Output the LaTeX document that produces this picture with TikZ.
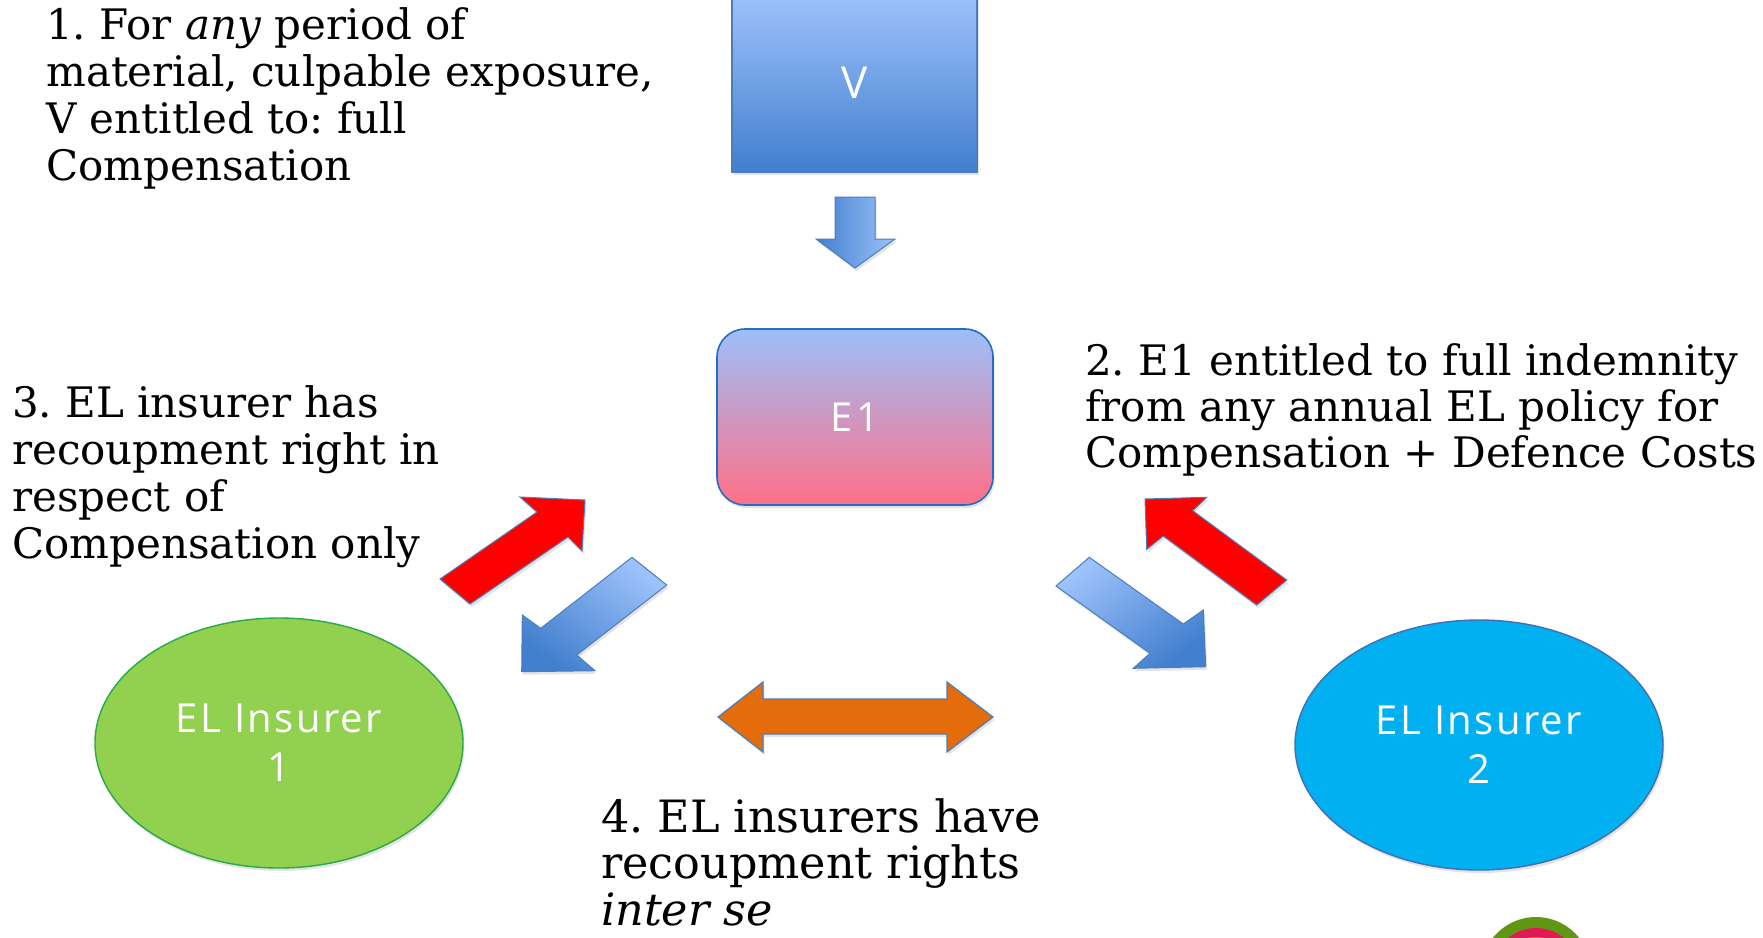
\documentclass[tikz,border=0pt]{standalone}
\usepackage{fontspec}
\setmainfont{DejaVu Serif}
\newfontfamily\shapefont[LetterSpace=6]{Open Sans}
\usetikzlibrary{shapes.geometric,shadows}

\definecolor{boxtop}{RGB}{157,194,251}
\definecolor{boxbot}{RGB}{66,127,206}
\definecolor{boxline}{RGB}{74,126,187}
\definecolor{eonetop}{RGB}{157,191,250}
\definecolor{eonebot}{RGB}{255,112,136}
\definecolor{eoneline}{RGB}{35,110,190}
\definecolor{redfill}{RGB}{255,0,0}
\definecolor{orangefill}{RGB}{228,108,10}
\definecolor{greenfill}{RGB}{146,208,80}
\definecolor{greenline}{RGB}{40,170,70}
\definecolor{cyanfill}{RGB}{0,176,240}
\definecolor{cyanline}{RGB}{65,110,180}
\definecolor{logogreen}{RGB}{95,150,20}
\definecolor{logored}{RGB}{225,25,85}
\definecolor{logoorange}{RGB}{240,120,30}

% a block of lines with a fixed baseline pitch, aligned on its first baseline
\newcommand{\linesblock}[2]{\vtop{\baselineskip=#1\lineskiplimit=-1000pt\lineskip=0pt #2}}

\tikzset{
  note/.style={anchor=base west, inner sep=0pt, font=\fontsize{42}{47}\selectfont\frenchspacing},
  shapelabel/.style={text=white, align=center, font=\shapefont\fontsize{40}{49}\selectfont},
  softshadow/.style={drop shadow={opacity=0.22, shadow xshift=1.5pt, shadow yshift=-3pt}},
  vbox/.style={rectangle, draw=boxline, line width=1.2pt, top color=boxtop, bottom color=boxbot,
    minimum width=245pt, minimum height=178pt, softshadow, shapelabel, font=\shapefont\fontsize{44}{50}\selectfont},
  eonebox/.style={rectangle, rounded corners=28pt, draw=eoneline, line width=1.6pt, top color=eonetop,
    bottom color=eonebot, minimum width=276pt, minimum height=176pt, softshadow, shapelabel},
  insurer/.style={ellipse, minimum width=368pt, minimum height=250pt, line width=1.4pt, softshadow, shapelabel},
  redarrow/.style={fill=redfill, draw=boxline, line width=1pt, line join=miter, softshadow},
  bluearrow/.style={draw=boxline, line width=1pt, line join=miter, softshadow},
  orangearrow/.style={fill=orangefill, draw=boxline, line width=1.2pt, line join=miter, softshadow},
}

\begin{document}
\begin{tikzpicture}[x=1pt, y=-1pt]
\useasboundingbox (0,0) rectangle (1763,937);

% parties
\node[vbox] (V) at (854.5,83) {V};
\node[eonebox] (E1) at (855,417) {E\hspace{3pt}1};
\node[insurer, fill=greenfill, draw=greenline] (I1) at (279,743) {EL Insurer\\1};
\node[insurer, fill=cyanfill, draw=cyanline] (I2) at (1479,745) {EL Insurer\\2};

% V down to E1
\path[bluearrow, left color=boxbot, right color=boxtop]
  (835,197) -- (875,197) -- (875,239) -- (895,239) -- (855,268) -- (816,239) -- (835,239) -- cycle;

% E1 and EL Insurer 1
\path[redarrow]
  (440,579) -- (537,512) -- (520,497) -- (585,500) -- (582,551) -- (568,537) -- (470,604) -- cycle;
\path[bluearrow, top color=boxtop, bottom color=boxbot, shading angle=-38]
  (632,557.3) -- (540.7,628.3) -- (522.3,615) -- (521.7,671.7) -- (595,670.7) -- (576.7,655) -- (666.7,585) -- cycle;

% E1 and EL Insurer 2
\path[redarrow]
  (1286.7,580) -- (1192.7,510.7) -- (1206.7,497.3) -- (1145,499) -- (1146.7,549.3) -- (1163.3,536) -- (1256.7,605) -- cycle;
\path[bluearrow, top color=boxtop, bottom color=boxbot, shading angle=38]
  (1089.3,557.3) -- (1183.3,624) -- (1203.3,610) -- (1205.7,666.7) -- (1133.3,668.3) -- (1150,653.3) -- (1056,586) -- cycle;

% between the two insurers
\path[orangearrow]
  (718,717) -- (763,682) -- (763,699) -- (947,699) -- (947,682) -- (993,717)
  -- (947,752) -- (947,734) -- (763,734) -- (763,752) -- cycle;

% notes
\node[note] (n1) at (46,39.5) {\linesblock{47pt}{%
  \hbox{1. For \textit{any} period of}
  \hbox{material, culpable exposure,}
  \hbox{V entitled to: full}
  \hbox{Compensation}}};
\node[note] (n2) at (1085,375) {\linesblock{46pt}{%
  \hbox{2. E1 entitled to full indemnity}
  \hbox{from any annual EL policy for}
  \hbox{Compensation + Defence Costs}}};
\node[note] (n3) at (12,417.5) {\linesblock{47pt}{%
  \hbox{3. EL insurer has}
  \hbox{recoupment right in}
  \hbox{respect of}
  \hbox{Compensation only}}};
\node[note, font=\fontsize{44.5}{47}\selectfont\frenchspacing] (n4) at (601,832) {\linesblock{46.5pt}{%
  \hbox{4. EL insurers have}
  \hbox{recoupment rights}
  \hbox{\textit{inter se}}}};

% emblem at the lower edge
\begin{scope}
  \clip (0,0) rectangle (1763,937);
  \fill[logogreen] (1536,972) circle[radius=55];
  \fill[logored] (1536,972) circle[radius=44];
  \fill[logoorange] (1536,972) circle[radius=35];
\end{scope}
\end{tikzpicture}
\end{document}
